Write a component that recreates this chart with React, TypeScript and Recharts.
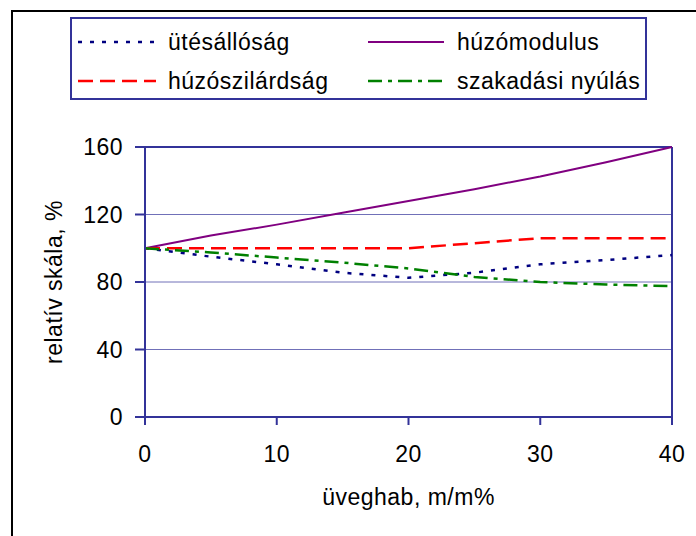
import React from 'react';
import { LineChart, Line, XAxis, YAxis, CartesianGrid, ReferenceLine } from 'recharts';

const xValues = [0, 5, 10, 15, 20, 25, 30, 35, 40];
const utesallosag = [100, 95, 90.5, 85.5, 82.5, 85.5, 90.5, 93, 96];
const huzomodulus = [100, 107.5, 114, 121, 128, 135, 142.5, 151, 160];
const huzoszilardsag = [100, 100, 100, 100, 100, 103, 106, 106, 106];
const szakadasiNyulas = [100, 97.5, 94.5, 91.5, 88, 83, 80, 78.5, 77.5];

const xTicks = [0, 10, 20, 30, 40];
const yTicks = [0, 40, 80, 120, 160];

const xTitle = 'üveghab, m/m%';
const yTitle = 'relatív skála, %';

const series = [
  { key: 'utes', name: 'ütésállóság', values: utesallosag, color: '#000080', dash: '4 8', width: 2.5 },
  { key: 'modulus', name: 'húzómodulus', values: huzomodulus, color: '#800080', dash: undefined, width: 2 },
  { key: 'szil', name: 'húzószilárdság', values: huzoszilardsag, color: '#ff0000', dash: '15 7', width: 2.5 },
  { key: 'nyulas', name: 'szakadási nyúlás', values: szakadasiNyulas, color: '#008000', dash: '14 6 4 6', width: 2.5 },
];

const data = xValues.map((x, i) => {
  const row: Record<string, number> = { x };
  series.forEach((s) => {
    row[s.key] = s.values[i];
  });
  return row;
});

const FONT = '"Liberation Sans", Arial, sans-serif';
const AXIS = '#333399';
const FS = 23;
const LS = 0.5;

const legendOrder = [
  [series[0], series[1]],
  [series[2], series[3]],
];

function LegendBox() {
  return (
    <div
      style={{
        position: 'absolute',
        left: 70,
        top: 17,
        width: 573,
        height: 79,
        border: `2px solid ${AXIS}`,
        background: '#fff',
        fontFamily: FONT,
        fontSize: FS,
        letterSpacing: LS,
        color: '#000',
      }}
    >
      {legendOrder.map((row, ri) => (
        <div key={ri} style={{ position: 'absolute', top: ri === 0 ? 8 : 47, left: 0, height: 30, width: '100%' }}>
          {row.map((s, ci) => (
            <div key={s.key} style={{ position: 'absolute', left: ci === 0 ? 6 : 296, top: 0, height: 30, display: 'flex', alignItems: 'center' }}>
              <svg width={80} height={10} style={{ display: 'block' }}>
                <line x1={0} y1={5} x2={ci === 0 ? 78 : 76} y2={5} stroke={s.color} strokeWidth={s.width} strokeDasharray={s.dash} />
              </svg>
              <span style={{ marginLeft: ci === 0 ? 10 : 9, whiteSpace: 'nowrap', lineHeight: '30px' }}>{s.name}</span>
            </div>
          ))}
        </div>
      ))}
    </div>
  );
}

export default function App() {
  return (
    <div style={{ position: 'absolute', left: 0, top: 0, width: 696, height: 536, overflow: 'hidden', background: '#fff' }}>
      <div
        style={{
          position: 'absolute',
          left: 11,
          top: 10,
          width: 760,
          height: 600,
          borderLeft: '2px solid #000',
          borderTop: '2px solid #000',
        }}
      />
      <div style={{ position: 'absolute', left: 0, top: 0 }}>
        <LineChart width={696} height={536} data={data} margin={{ top: 147, right: 24, bottom: 0, left: 0 }}>
          <CartesianGrid vertical={false} stroke="#7070b8" strokeWidth={1} />
          <XAxis
            dataKey="x"
            type="number"
            domain={[0, 40]}
            ticks={xTicks}
            interval={0}
            height={119}
            axisLine={{ stroke: AXIS, strokeWidth: 2 }}
            tickLine={{ stroke: AXIS, strokeWidth: 2 }}
            tickSize={8}
            tickMargin={21}
            tick={{ fill: '#000', fontSize: FS, fontFamily: FONT, letterSpacing: LS }}
            label={{ value: xTitle, position: 'insideBottom', offset: 31, fill: '#000', fontSize: FS, fontFamily: FONT, style: { letterSpacing: LS } }}
          />
          <YAxis
            type="number"
            domain={[0, 160]}
            ticks={yTicks}
            interval={0}
            width={145}
            axisLine={{ stroke: AXIS, strokeWidth: 2 }}
            tickLine={{ stroke: AXIS, strokeWidth: 2 }}
            tickSize={10}
            tickMargin={12}
            tick={{ fill: '#000', fontSize: FS, fontFamily: FONT, letterSpacing: LS }}
            label={{ value: yTitle, angle: -90, position: 'insideLeft', offset: 54, fill: '#000', fontSize: FS, fontFamily: FONT, style: { textAnchor: 'middle', letterSpacing: LS } }}
          />
          <ReferenceLine y={160} stroke={AXIS} strokeWidth={2} />
          <ReferenceLine x={40} stroke={AXIS} strokeWidth={2} />
          {series.map((s) => (
            <Line
              key={s.key}
              type="linear"
              dataKey={s.key}
              name={s.name}
              stroke={s.color}
              strokeWidth={s.width}
              strokeDasharray={s.dash}
              dot={false}
              activeDot={false}
              isAnimationActive={false}
            />
          ))}
        </LineChart>
      </div>
      <LegendBox />
    </div>
  );
}
